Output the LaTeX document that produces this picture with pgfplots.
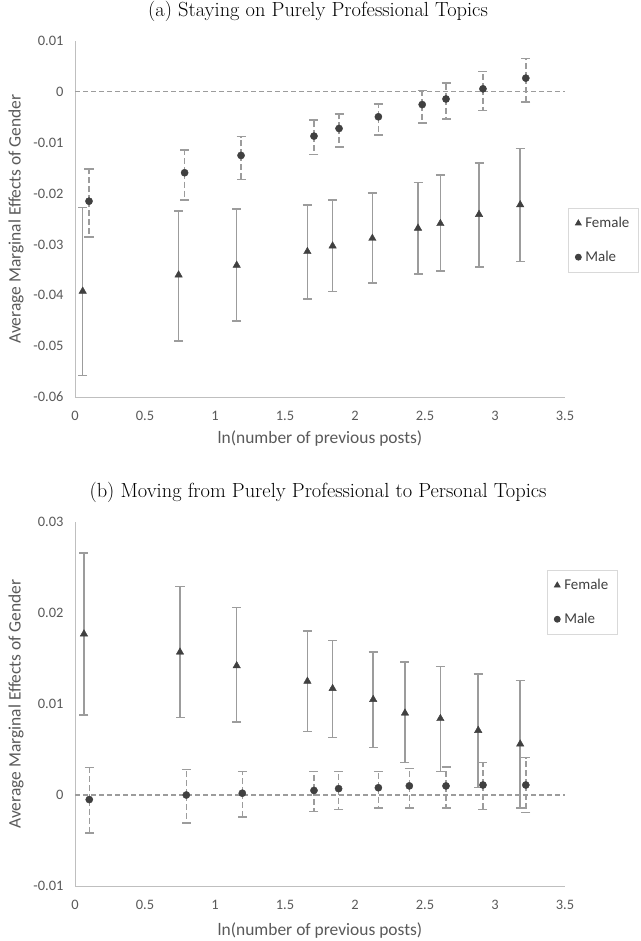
\documentclass[border=0pt]{standalone}
\usepackage{fontspec}
\usepackage{pgfplots}
\usepackage{pgfplotstable}
\pgfplotsset{compat=1.18}
\newfontfamily\calfont{Carlito}
\definecolor{txt}{HTML}{595959}
\definecolor{axl}{HTML}{BFBFBF}
\definecolor{eb}{HTML}{9C9C9C}
\definecolor{mk}{HTML}{404040}
\definecolor{lgb}{HTML}{D9D9D9}

\pgfplotstableread{
x y lo hi
0.055 -0.0392 -0.0558 -0.0227
0.74 -0.0360 -0.0490 -0.0234
1.155 -0.0341 -0.0451 -0.0230
1.66 -0.0314 -0.0407 -0.0222
1.84 -0.0303 -0.0393 -0.0213
2.124 -0.0288 -0.0376 -0.0199
2.45 -0.0268 -0.0358 -0.0178
2.61 -0.0259 -0.0352 -0.0163
2.886 -0.0241 -0.0344 -0.0140
3.18 -0.0222 -0.0334 -0.0111
}\ftop
\pgfplotstableread{
x y lo hi
0.10 -0.0215 -0.0285 -0.0152
0.783 -0.0159 -0.0213 -0.0114
1.186 -0.0125 -0.0172 -0.0088
1.707 -0.0087 -0.0123 -0.0055
1.886 -0.0072 -0.0108 -0.0044
2.167 -0.0049 -0.0085 -0.0024
2.48 -0.0025 -0.0061 0.0003
2.65 -0.0014 -0.0053 0.0017
2.914 0.0006 -0.0037 0.0040
3.22 0.0027 -0.0020 0.0066
}\mtop
\pgfplotstableread{
x y lo hi
0.064 0.0177 0.0088 0.0266
0.75 0.0157 0.0085 0.0229
1.155 0.0142 0.0080 0.0206
1.66 0.0125 0.0070 0.0180
1.84 0.0117 0.0063 0.0170
2.13 0.0105 0.0052 0.0157
2.357 0.0090 0.0036 0.0146
2.61 0.0084 0.0026 0.0141
2.88 0.0071 0.0008 0.0133
3.18 0.0056 -0.0014 0.0126
}\fbot
\pgfplotstableread{
x y lo hi
0.102 -0.0005 -0.0042 0.0030
0.795 0.0000 -0.0031 0.0028
1.195 0.0002 -0.0024 0.0026
1.707 0.0005 -0.0018 0.0026
1.883 0.0007 -0.0016 0.0026
2.167 0.0008 -0.0014 0.0026
2.388 0.0010 -0.0014 0.0029
2.65 0.0010 -0.0014 0.0031
2.914 0.0011 -0.0016 0.0036
3.22 0.0011 -0.0019 0.0041
}\mbot

\pgfplotsset{
  mystyle/.style={
    scale only axis, width=490bp,
    xmin=0, xmax=3.5,
    scaled y ticks=false, scaled x ticks=false,
    axis lines=left, axis line style={-, draw=axl, line width=1bp},
    major tick length=0pt, tick style={draw=none},
    xtick={0,0.5,1,1.5,2,2.5,3,3.5},
    xticklabels={0,0.5,1,1.5,2,2.5,3,3.5},
    ticklabel style={font=\calfont\fontsize{14.5}{16}\selectfont, text=txt},
    xticklabel style={yshift=-11bp},
    yticklabel style={xshift=-8bp},
    xlabel={ln(number of previous posts)},
    ylabel={Average Marginal Effects of Gender},
    label style={font=\calfont\fontsize{17.5}{20}\selectfont, text=txt},
    title style={font=\fontsize{20.5}{24}\selectfont, anchor=center},
    legend cell align=left,
    legend style={draw=lgb, line width=0.8bp, font=\calfont\fontsize{15}{17}\selectfont, text=mk,
      row sep=18bp, column sep=2bp, inner xsep=7bp, inner ysep=7bp},
  },
  fstyle/.style={only marks, mark=triangle*, mark size=4.3bp, color=mk,
    legend image code/.code={\draw[mark size=3.3bp] plot coordinates {(0.1cm,0cm)};},
    error bars/.cd, y dir=both, y explicit,
    error bar style={eb, line width=1.5bp, solid},
    error mark options={eb, rotate=90, mark size=4.5bp, line width=1.5bp, solid}},
  mstyle/.style={only marks, mark=*, mark size=3.6bp, color=mk,
    legend image code/.code={\draw[mark size=3bp] plot coordinates {(0.1cm,0cm)};},
    error bars/.cd, y dir=both, y explicit,
    error bar style={eb, line width=1.5bp, dash pattern=on 6bp off 3bp},
    error mark options={eb, rotate=90, mark size=4.5bp, line width=1.5bp, solid}},
}

\begin{document}
\begin{tikzpicture}
\path[use as bounding box] (0,0) rectangle (641bp,-941bp);

\begin{axis}[mystyle, at={(75bp,-397bp)}, anchor=south west,
  height=356bp, ymin=-0.06, ymax=0.01,
  ytick={-0.06,-0.05,-0.04,-0.03,-0.02,-0.01,0,0.01},
  yticklabels={-0.06,-0.05,-0.04,-0.03,-0.02,-0.01,0,0.01},
  xlabel style={at={(axis description cs:0.5,-0.118)}, anchor=center},
  ylabel style={at={(axis description cs:-0.1204,0.5)}, anchor=center},
  title={(a) Staying on Purely Professional Topics},
  title style={at={(axis description cs:0.496,1.066)}},
  legend style={at={(axis description cs:1.006,0.531)}, anchor=north west},
]
\addplot[forget plot, draw=eb, line width=1.2bp, dash pattern=on 5bp off 3bp] coordinates {(0,0) (3.5,0)};
\addplot[fstyle] table[x=x, y=y, y error plus expr=\thisrow{hi}-\thisrow{y}, y error minus expr=\thisrow{y}-\thisrow{lo}] {\ftop};
\addlegendentry{Female}
\addplot[mstyle] table[x=x, y=y, y error plus expr=\thisrow{hi}-\thisrow{y}, y error minus expr=\thisrow{y}-\thisrow{lo}] {\mtop};
\addlegendentry{Male}
\end{axis}

\begin{axis}[mystyle, at={(75bp,-886bp)}, anchor=south west,
  height=364bp, ymin=-0.01, ymax=0.03,
  ytick={-0.01,0,0.01,0.02,0.03},
  yticklabels={-0.01,0,0.01,0.02,0.03},
  xlabel style={at={(axis description cs:0.5,-0.121)}, anchor=center},
  ylabel style={at={(axis description cs:-0.1204,0.5)}, anchor=center},
  title={(b) Moving from Purely Professional to Personal Topics},
  title style={at={(axis description cs:0.496,1.066)}},
  legend style={at={(axis description cs:0.963,0.868)}, anchor=north west},
]
\addplot[forget plot, draw=eb, line width=1.2bp, dash pattern=on 5bp off 3bp] coordinates {(0,0) (3.5,0)};
\addplot[fstyle] table[x=x, y=y, y error plus expr=\thisrow{hi}-\thisrow{y}, y error minus expr=\thisrow{y}-\thisrow{lo}] {\fbot};
\addlegendentry{Female}
\addplot[mstyle] table[x=x, y=y, y error plus expr=\thisrow{hi}-\thisrow{y}, y error minus expr=\thisrow{y}-\thisrow{lo}] {\mbot};
\addlegendentry{Male}
\end{axis}
\end{tikzpicture}
\end{document}
